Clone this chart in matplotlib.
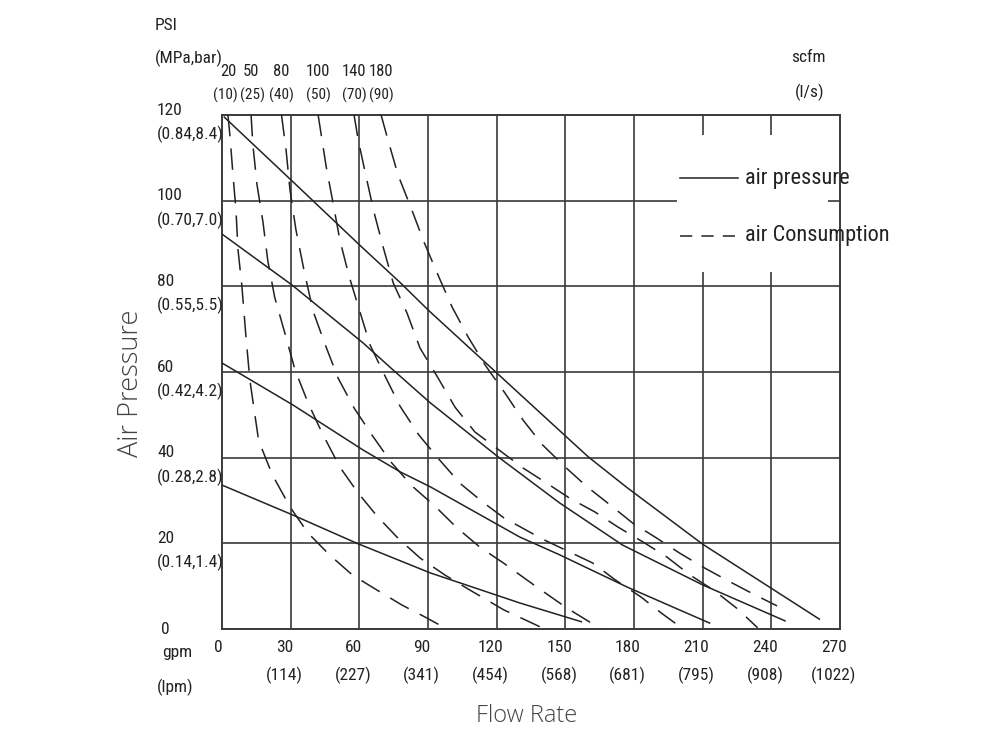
import matplotlib
matplotlib.use("Agg")
import matplotlib.pyplot as plt
import matplotlib.transforms as mtransforms
from matplotlib.patches import Rectangle

# air pressure curves (solid), gpm vs psi
p120_gpm = [1, 31, 61, 78, 90, 120, 151, 160, 177, 210, 261]
p120_psi = [119.5, 104.4, 89.2, 80.8, 74.5, 59.8, 44.6, 40.2, 33, 19.8, 2.3]
p90_gpm = [0, 30.6, 61.6, 74.7, 91, 120.6, 147.6, 175, 210, 246]
p90_psi = [92.2, 80.3, 66.8, 60.5, 52.8, 40.2, 29.4, 19.6, 10.3, 1.9]
p60_gpm = [0, 31, 61.6, 77.8, 91, 130, 147.6, 177, 213]
p60_psi = [62.1, 52.3, 41.8, 36.7, 33.2, 21.5, 17.3, 9.8, 1.4]
p30_gpm = [0, 31, 59, 91, 130, 157]
p30_psi = [33.6, 26.6, 20, 13.1, 6.1, 1.7]

# air consumption curves (dashed)
c20_gpm = [2.6, 3.5, 4.8, 6.1, 7, 8.7, 10.5, 12.2, 16, 22, 29.7, 37.6, 47, 57, 67.7, 78.6, 88.7, 98.3]
c20_psi = [120, 115, 106, 97.8, 88.5, 80, 68, 58, 44, 36, 28.5, 22.4, 17.3, 12.6, 9.1, 5.6, 2.8, 0]
c50_gpm = [12.7, 13.5, 15.3, 17.9, 20, 23, 27.5, 31.9, 37.6, 43.7, 51.5, 59.4, 68, 76.9, 86.5, 97.4, 108.3, 123, 141]
c50_psi = [120, 113, 103.7, 95, 86, 77.5, 69, 60.5, 52.8, 45.8, 37.8, 31.8, 26.2, 21.2, 16.6, 12.6, 9.1, 4.5, 0]
c80_gpm = [26, 28, 29.7, 32.3, 35.8, 39.8, 45, 50.7, 57.7, 65.5, 73.8, 83, 93, 102.7, 112.7, 123, 137, 150.7, 165.6]
c80_psi = [120, 111.8, 102.5, 93.2, 83.8, 74.2, 66.5, 58.6, 51.6, 45.3, 39, 33.4, 28.7, 23.6, 19.1, 15.4, 10, 4.9, 0]
c100_gpm = [42, 45.5, 48.5, 51.5, 55.5, 60, 64.7, 71, 77.8, 86, 95, 104, 114, 123, 140, 162, 172, 183, 192, 201.5]
c100_psi = [120, 108, 99.5, 90.8, 82.4, 74.5, 66.3, 59.3, 52, 45.3, 39.5, 34, 29.6, 26, 21, 15.4, 11.4, 7.5, 3.7, 0]
c140_gpm = [57.7, 59.5, 63, 66.5, 70.5, 74.8, 80.8, 86.5, 94.4, 101.8, 110.5, 121, 131.5, 142, 152, 163, 173, 184, 194.4, 204.5, 215, 225, 234]
c140_psi = [120, 114.2, 105.5, 97.1, 89, 80.8, 73.8, 65.6, 58.6, 51.8, 46, 41.8, 37.6, 34, 30.5, 27.3, 23.8, 20.3, 16.8, 12.6, 9, 4.8, 0.3]
c180_gpm = [69.5, 72.5, 76.9, 82.6, 88.2, 94.4, 100.5, 107.5, 115, 123.6, 131.5, 140, 150, 159.5, 169.5, 179.5, 190, 200, 211, 222, 232, 242.5]
c180_psi = [120, 114.2, 106, 98.3, 90.4, 82.6, 75.2, 68.2, 61.6, 55.1, 48.8, 43, 37.8, 33.2, 29, 24.7, 21.2, 17.7, 14.2, 11, 8.2, 5.4]

scfm_labels = ["20", "50", "80", "100", "140", "180"]
ls_labels = ["(10)", "(25)", "(40)", "(50)", "(70)", "(90)"]

psi_ticks = [20, 40, 60, 80, 100, 120]
psi_sub = ["(0.14,1.4)", "(0.28,2.8)", "(0.42,4.2)", "(0.55,5.5)", "(0.70,7.0)", "(0.84,8.4)"]
gpm_ticks = [30, 60, 90, 120, 150, 180, 210, 240, 270]
lpm_labels = ["(114)", "(227)", "(341)", "(454)", "(568)", "(681)", "(795)", "(908)", "(1022)"]

ink = "#222222"
grid_c = "#3a3a3a"
fnt = ["Roboto Condensed", "Archivo Narrow", "PT Sans Narrow", "Pragati Narrow",
       "Liberation Sans Narrow", "DejaVu Sans"]
title_fnt = ["Open Sans", "DejaVu Sans"]
fs = 12.5
top_nudge = [-1.8, 1.0, 0, 0, 0, 0]  # keep "(10)(25)" from touching

fig = plt.figure(figsize=(10, 7.5), dpi=100)
ax = fig.add_axes([0.222, 0.1613, 0.618, 0.6854])
ax.set_xlim(0, 270)
ax.set_ylim(0, 120)

for g in gpm_ticks[:-1]:
    ax.axvline(g, color=grid_c, lw=1.2, zorder=1)
for p in psi_ticks[:-1]:
    ax.axhline(p, color=grid_c, lw=1.2, zorder=1)
for s in ax.spines.values():
    s.set_color(grid_c)
    s.set_linewidth(1.4)
ax.set_xticks([])
ax.set_yticks([])

for gx, py in [(p120_gpm, p120_psi), (p90_gpm, p90_psi), (p60_gpm, p60_psi), (p30_gpm, p30_psi)]:
    ax.plot(gx, py, color=ink, lw=1.1, zorder=3)

cons = [(c20_gpm, c20_psi), (c50_gpm, c50_psi), (c80_gpm, c80_psi),
        (c100_gpm, c100_psi), (c140_gpm, c140_psi), (c180_gpm, c180_psi)]
for gx, py in cons:
    ax.plot(gx, py, color=ink, lw=1.1, ls=(0, (14, 8)), zorder=3)

# legend drawn by hand on a white patch
ax.add_patch(Rectangle((0.736, 0.695), 0.245, 0.266, transform=ax.transAxes,
                       facecolor="white", edgecolor="none", zorder=2))
ax.plot([0.741, 0.835], [0.877, 0.877], transform=ax.transAxes, color=ink, lw=1.1, zorder=4)
ax.plot([0.741, 0.834], [0.765, 0.765], transform=ax.transAxes, color=ink, lw=1.1,
        ls=(0, (8, 6)), zorder=4)
ax.text(0.846, 0.877, "air pressure", transform=ax.transAxes, ha="left", va="center",
        fontsize=16, color=ink, family=fnt, zorder=5)
ax.text(0.846, 0.765, "air Consumption", transform=ax.transAxes, ha="left", va="center",
        fontsize=16, color=ink, family=fnt, zorder=5)

# y labels
ytr = mtransforms.blended_transform_factory(fig.transFigure, ax.transData)
for p, sub in zip(psi_ticks, psi_sub):
    ax.annotate(str(p), xy=(0.157, p), xycoords=ytr, xytext=(0, 3.5), textcoords="offset points",
                ha="left", va="center", fontsize=fs, color=ink, family=fnt, annotation_clip=False)
    ax.annotate(sub, xy=(0.157, p), xycoords=ytr, xytext=(0, -14), textcoords="offset points",
                ha="left", va="center", fontsize=fs, color=ink, family=fnt, annotation_clip=False)
ax.annotate("0", xy=(0.161, 0), xycoords=ytr, xytext=(0, 0), textcoords="offset points",
            ha="left", va="center", fontsize=fs, color=ink, family=fnt, annotation_clip=False)
fig.text(0.162, 1 - 652 / 750, "gpm", ha="left", va="center", fontsize=fs, color=ink, family=fnt)
fig.text(0.157, 1 - 687 / 750, "(lpm)", ha="left", va="center", fontsize=fs, color=ink, family=fnt)
fig.text(0.155, 1 - 25 / 750, "PSI", ha="left", va="center", fontsize=fs, color=ink, family=fnt)
fig.text(0.155, 1 - 58 / 750, "(MPa,bar)", ha="left", va="center", fontsize=fs, color=ink, family=fnt)
fig.text(0.808, 1 - 57 / 750, "scfm", ha="center", va="center", fontsize=fs, color=ink, family=fnt)
fig.text(0.810, 1 - 92 / 750, "(l/s)", ha="center", va="center", fontsize=fs, color=ink, family=fnt)

# x labels
xtr = mtransforms.blended_transform_factory(ax.transData, fig.transFigure)
ax.annotate("0", xy=(0, 1 - 648 / 750), xycoords=xtr, xytext=(-3, 0), textcoords="offset points",
            ha="center", va="center", fontsize=fs, color=ink, family=fnt, annotation_clip=False)
for g, sub in zip(gpm_ticks, lpm_labels):
    ax.annotate(str(g), xy=(g, 1 - 648 / 750), xycoords=xtr, xytext=(-4.5, 0), textcoords="offset points",
                ha="center", va="center", fontsize=fs, color=ink, family=fnt, annotation_clip=False)
    ax.annotate(sub, xy=(g, 1 - 675 / 750), xycoords=xtr, xytext=(-4.5, 0), textcoords="offset points",
                ha="center", va="center", fontsize=fs, color=ink, family=fnt, annotation_clip=False)

# scfm labels at top, at each consumption curve start
for (gx, py), lab, sub, dx in zip(cons, scfm_labels, ls_labels, top_nudge):
    ax.annotate(lab, xy=(gx[0], 120), xycoords="data", xytext=(0, 31), textcoords="offset points",
                ha="center", va="center", fontsize=12, color=ink, family=fnt, annotation_clip=False)
    ax.annotate(sub, xy=(gx[0], 120), xycoords="data", xytext=(dx, 14), textcoords="offset points",
                ha="center", va="center", fontsize=11, color=ink, family=fnt, annotation_clip=False)

fig.text(0.131, 1 - 383 / 750, "Air Pressure", rotation=90, ha="center", va="center",
         fontsize=19.5, color="#444444", family=title_fnt, fontweight="light")
fig.text(0.527, 1 - 716 / 750, "Flow Rate", ha="center", va="center",
         fontsize=17, color="#444444", family=title_fnt, fontweight="light")

fig.savefig("out.png", dpi=100, facecolor="white")
